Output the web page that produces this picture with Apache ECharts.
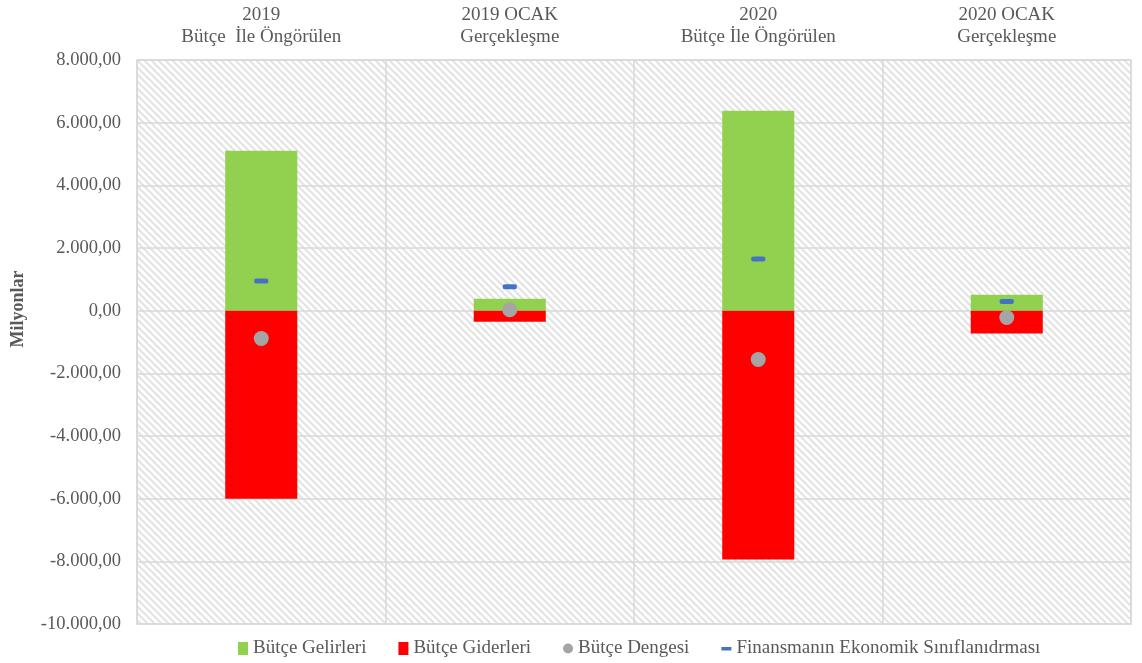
<!DOCTYPE html>
<html>
<head>
<meta charset="utf-8">
<script src="https://cdn.jsdelivr.net/npm/echarts@6/dist/echarts.min.js"></script>
<style>html,body{margin:0;padding:0;background:#fff;}#c{width:1142px;height:663px;}</style>
</head>
<body>
<div id="c"></div>
<script>
var categories = ['2019\nBütçe  İle Öngörülen', '2019 OCAK\nGerçekleşme', '2020\nBütçe İle Öngörülen', '2020 OCAK\nGerçekleşme'];
var gelirler = [5100, 380, 6380, 510];
var giderler = [-6000, -350, -7940, -730];
var denge = [-890, 30, -1560, -220];
var finansman = [950, 760, 1650, 290];
var yTicks = {min: -10000, max: 8000, interval: 2000};

function fmt(v) {
  var neg = v < 0; v = Math.abs(v);
  var s = Math.round(v).toString().replace(/\B(?=(\d{3})+(?!\d))/g, '.');
  return (neg ? '-' : '') + s + ',00';
}

var N = 7;
var pc = document.createElement('canvas');
pc.width = N; pc.height = N;
var ctx = pc.getContext('2d');
ctx.fillStyle = '#ffffff'; ctx.fillRect(0,0,N,N);
ctx.strokeStyle = '#e3e3e3'; ctx.lineWidth = 2;
ctx.beginPath();
[-N, 0, N].forEach(function (o) { ctx.moveTo(o - 1, -1); ctx.lineTo(o + N + 1, N + 1); });
ctx.stroke();

var font = 'Liberation Serif';
var chart = echarts.init(document.getElementById('c'));
chart.setOption({
  animation: false,
  textStyle: {fontFamily: font, color: '#595959'},
  grid: {left: 137, right: 11, top: 60, bottom: 39, show: true,
    backgroundColor: {image: pc, repeat: 'repeat'}, borderColor: '#d9d9d9', borderWidth: 1.5},
  legend: {bottom: 0, left: 233, itemGap: 32, itemWidth: 10, itemHeight: 13,
    textStyle: {fontFamily: font, fontSize: 19, color: '#595959'},
    data: [
      {name: 'Bütçe Gelirleri', icon: 'rect'},
      {name: 'Bütçe Giderleri', icon: 'rect'},
      {name: 'Bütçe Dengesi', icon: 'circle'},
      {name: 'Finansmanın Ekonomik Sınıflanıdrması', icon: 'path://M0,0L10,0M0,4.5h10v3.5h-10zM0,12L10,12'}
    ]},
  xAxis: {type: 'category', position: 'top', data: categories,
    axisLine: {show: false}, axisTick: {show: false},
    axisLabel: {fontFamily: font, fontSize: 19, color: '#595959', lineHeight: 22, margin: 12},
    splitLine: {show: true, lineStyle: {color: '#d9d9d9', width: 1.5}}},
  yAxis: {type: 'value', min: yTicks.min, max: yTicks.max, interval: yTicks.interval,
    name: 'Milyonlar', nameLocation: 'middle', nameGap: 110,
    nameTextStyle: {fontFamily: font, fontSize: 18, fontWeight: 'bold', color: '#595959', padding: [0, 0, 0, 66]},
    axisLine: {show: false}, axisTick: {show: false},
    axisLabel: {fontFamily: font, fontSize: 18.5, color: '#595959', margin: 16, formatter: fmt},
    splitLine: {show: true, lineStyle: {color: '#d9d9d9', width: 1.5}}},
  series: [
    {name: 'Bütçe Gelirleri', type: 'bar', data: gelirler, barWidth: '29%', barGap: '-100%',
      itemStyle: {color: '#92d050'}},
    {name: 'Bütçe Giderleri', type: 'bar', data: giderler, barWidth: '29%', barGap: '-100%',
      itemStyle: {color: '#ff0000'}},
    {name: 'Bütçe Dengesi', type: 'scatter', data: denge, symbol: 'circle', symbolSize: 15,
      itemStyle: {color: '#a5a5a5', opacity: 1}, z: 5},
    {name: 'Finansmanın Ekonomik Sınıflanıdrması', type: 'scatter', data: finansman,
      symbol: 'roundRect', symbolSize: [14, 5], itemStyle: {color: '#4472c4', opacity: 1}, z: 6}
  ]
});
</script>
</body>
</html>
